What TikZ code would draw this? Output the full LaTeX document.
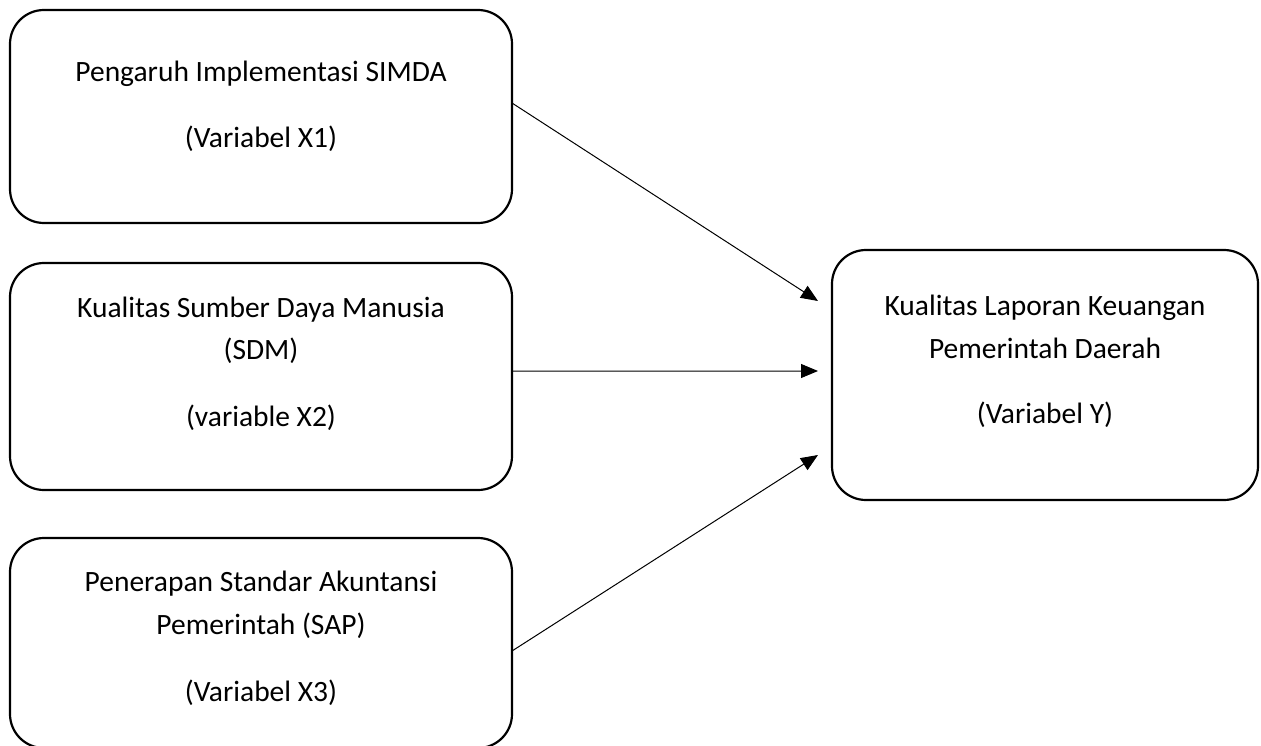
\documentclass[tikz,border=0pt]{standalone}
\usepackage{fontspec}
\setmainfont{Carlito}
\usetikzlibrary{arrows.meta}
\begin{document}
\begin{tikzpicture}[x=1bp,y=-1bp,
  box/.style={draw=black,line width=2.2bp,rounded corners=34bp,rectangle,inner sep=0pt,outer sep=0pt,minimum width=502bp},
  boxY/.style={draw=black,line width=2.2bp,rounded corners=34bp,rectangle,inner sep=0pt,outer sep=0pt,minimum width=426bp,minimum height=250bp},
  txt/.style={anchor=base,inner sep=0pt,font=\fontsize{29.6}{35}\selectfont},
  arr/.style={line width=1bp,-{Triangle[length=17bp,width=14bp]}}]
\clip (0,0) rectangle (1261,746);
\fill[white] (0,0) rectangle (1261,746);
% boxes
\node[box,minimum height=213bp] (b1) at (261,116.5) {};
\node[box,minimum height=227bp] (b2) at (261,376.5) {};
\node[box,minimum height=210bp] (b3) at (261,643) {};
\node[boxY] (bY) at (1045,375) {};
% texts
\node[txt] (t11) at (261,82) {Pengaruh Implementasi SIMDA};
\node[txt] (t12) at (261,147) {(Variabel X1)};
\node[txt] (t21) at (261,317) {Kualitas Sumber Daya Manusia};
\node[txt] (t22) at (261,359) {(SDM)};
\node[txt] (t23) at (261,426) {(variable X2)};
\node[txt] (t31) at (261,591) {Penerapan Standar Akuntansi};
\node[txt] (t32) at (261,634) {Pemerintah (SAP)};
\node[txt] (t33) at (261,701) {(Variabel X3)};
\node[txt] (tY1) at (1045,315) {Kualitas Laporan Keuangan};
\node[txt] (tY2) at (1045,358) {Pemerintah Daerah};
\node[txt] (tY3) at (1045,423) {(Variabel Y)};
% arrow ends
\coordinate (e1) at ([xshift=-14bp,yshift=74bp]bY.west);
\coordinate (e2) at ([xshift=-14bp,yshift=4bp]bY.west);
\coordinate (e3) at ([xshift=-14bp,yshift=-80bp]bY.west);
\draw[arr] ([yshift=13.5bp]b1.east) -- (e1);
\draw[arr] ([yshift=5.5bp]b2.east) -- (e2);
\draw[arr] ([yshift=-8bp]b3.east) -- (e3);
\end{tikzpicture}
\end{document}
